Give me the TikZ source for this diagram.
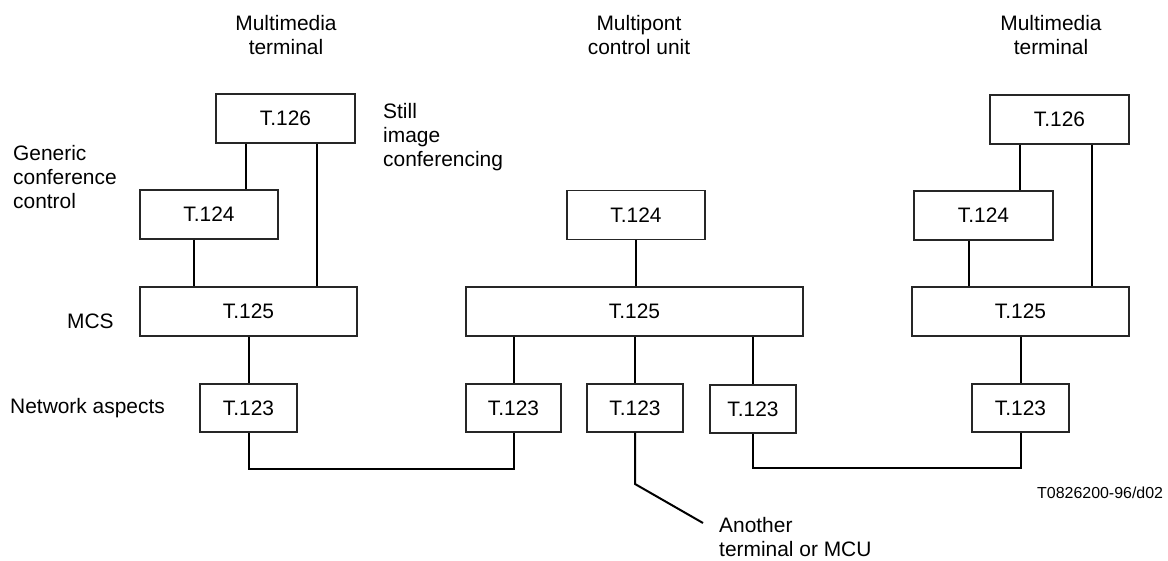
\documentclass[tikz,border=0pt]{standalone}
\usepackage{fontspec}
\setmainfont{Liberation Sans}

\begin{document}
\begin{tikzpicture}[
        x=1bp, y=-1bp,
        font=\fontsize{21}{24}\selectfont,
        box/.style={draw=black!85, line width=1.2bp, minimum height=49bp, inner sep=0pt},
        layer/.style={align=left, inner sep=0pt},
        head/.style={align=center, inner sep=0pt, anchor=north},
        link/.style={draw, line width=2bp}
    ]
    \useasboundingbox (0,0) rectangle (1168,561);

    % Headings over the three columns
    \node[head] (headL) at (286,15) {Multimedia\\terminal};
    \node[head] (headM) at (639,15) {Multipont\\control unit};
    \node[head] (headR) at (1051,15) {Multimedia\\terminal};

    % Layer names on the left
    \node[layer, anchor=north west] (gcc) at (13,145) {Generic\\conference\\control};
    \node[layer, anchor=west] (mcs) at (67,321.5) {MCS};
    \node[layer, anchor=base west] (netw) at (10,413) {Network aspects};
    \node[layer, anchor=north west] (still) at (383,103) {Still\\image\\conferencing};

    % Left terminal
    \node[box, minimum width=139bp] (t126L) at (285.5,118.5) {T.126};
    \node[box, minimum width=138bp] (t124L) at (209,214.5) {T.124};
    \node[box, minimum width=217bp] (t125L) at (248.5,311.5) {T.125};
    \node[box, minimum width=97bp, minimum height=48bp] (t123L) at (248.5,408) {T.123};

    % Multipoint control unit
    \node[box, minimum width=138bp] (t124M) at (636,215) {T.124};
    \node[box, minimum width=337bp] (t125M) at (634.5,311.5) {T.125};
    \node[box, minimum width=95bp, minimum height=48bp] (t123a) at (513.5,408) {T.123};
    \node[box, minimum width=96bp, minimum height=48bp] (t123b) at (635,408) {T.123};
    \node[box, minimum width=86bp, minimum height=48bp] (t123c) at (753,409) {T.123};

    % Right terminal
    \node[box, minimum width=139bp] (t126R) at (1059.5,119.5) {T.126};
    \node[box, minimum width=139bp] (t124R) at (983.5,215.5) {T.124};
    \node[box, minimum width=217bp] (t125R) at (1020.5,311.5) {T.125};
    \node[box, minimum width=97bp, minimum height=48bp] (t123R) at (1020.5,408) {T.123};

    % Other end of the MCU link
    \node[layer, anchor=north west] (other) at (719,517) {Another\\terminal or MCU};
    \coordinate (bend) at (635,484);
    \coordinate (otherEnd) at (703,523);

    % Figure reference
    \node[layer, anchor=base west, font=\fontsize{16}{19}\selectfont] (ref) at (1037,498) {T0826200-96/d02};

    % Links inside the left terminal
    \draw[link] (246,0 |- t126L.south) -- (246,0 |- t124L.north);
    \draw[link] (317,0 |- t126L.south) -- (317,0 |- t125L.north);
    \draw[link] (194,0 |- t124L.south) -- (194,0 |- t125L.north);
    \draw[link] (t123L.north |- t125L.south) -- (t123L.north);

    % Links inside the MCU
    \draw[link] (t124M.south) -- (t124M.south |- t125M.north);
    \draw[link] (t123a.north |- t125M.south) -- (t123a.north);
    \draw[link] (t123b.north |- t125M.south) -- (t123b.north);
    \draw[link] (t123c.north |- t125M.south) -- (t123c.north);

    % Links inside the right terminal
    \draw[link] (1020,0 |- t126R.south) -- (1020,0 |- t124R.north);
    \draw[link] (1092,0 |- t126R.south) -- (1092,0 |- t125R.north);
    \draw[link] (969,0 |- t124R.south) -- (969,0 |- t125R.north);
    \draw[link] (t123R.north |- t125R.south) -- (t123R.north);

    % Network connections
    \draw[link] (t123L.south) -- (t123L.south |- 0,469) -| (t123a.south);
    \draw[link] (t123c.south) -- (t123c.south |- 0,468) -| (t123R.south);
    \draw[link] (t123b.south) -- (bend) -- (otherEnd);

\end{tikzpicture}
\end{document}
